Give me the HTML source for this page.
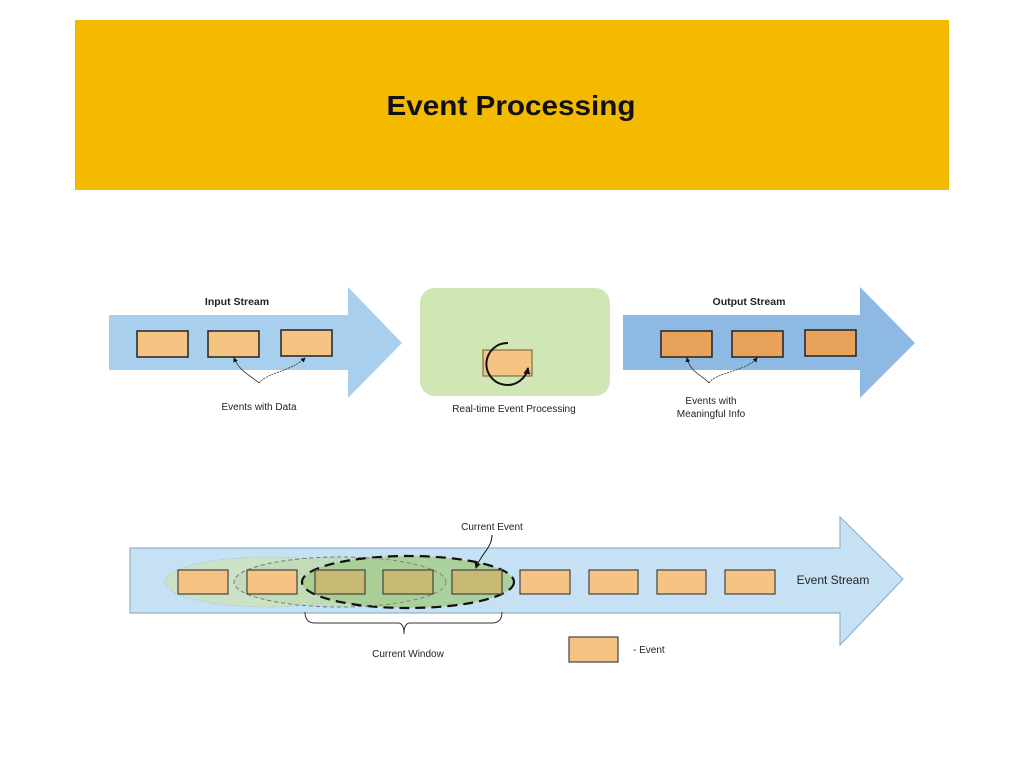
<!DOCTYPE html>
<html><head><meta charset="utf-8"><style>
html,body{margin:0;padding:0;background:#fff;width:1024px;height:768px;overflow:hidden}
svg{display:block}
text{font-family:"Liberation Sans",Arial,sans-serif}
</style></head><body>
<svg width="1024" height="768" viewBox="0 0 1024 768" xmlns="http://www.w3.org/2000/svg">
<defs>
<marker id="ah" markerWidth="6" markerHeight="6" refX="5" refY="3" orient="auto"><path d="M0,0 L6,3 L0,6 z" fill="#111"/></marker>
<marker id="ah2" markerUnits="userSpaceOnUse" markerWidth="8" markerHeight="8" refX="6" refY="4" orient="auto"><path d="M0,0.5 L7,4 L0,7.5 z" fill="#111"/></marker>
</defs>
<rect x="75" y="20" width="874" height="170" fill="#F4BA00"/>
<text x="511" y="115" font-size="28" font-weight="bold" text-anchor="middle" fill="#111" textLength="249" lengthAdjust="spacingAndGlyphs">Event Processing</text>

<!-- Input arrow -->
<path d="M109,315 H348 V287 L402,343 L348,398 V370 H109 Z" fill="#A9CFEE"/>
<text x="237" y="305" font-size="10.5" font-weight="bold" text-anchor="middle" fill="#222">Input Stream</text>
<g fill="#F5C482" stroke="#222" stroke-width="1.5">
<rect x="137" y="331" width="51" height="26"/>
<rect x="208" y="331" width="51" height="26"/>
<rect x="281" y="330" width="51" height="26"/>
</g>
<path d="M259,383 C250,375 240,372 234,358" fill="none" stroke="#333" stroke-width="0.8" marker-end="url(#ah)"/>
<path d="M259,383 C268,372 290,372 305,358" fill="none" stroke="#333" stroke-width="0.8" stroke-dasharray="2,1" marker-end="url(#ah)"/>
<text x="259" y="410" font-size="10" text-anchor="middle" fill="#222">Events with Data</text>

<!-- Processing -->
<rect x="420" y="288" width="190" height="108" rx="15" fill="#D0E6B5"/>
<rect x="483" y="350" width="49" height="26" fill="#F5C482" stroke="#6b5a30" stroke-width="1"/>
<path d="M508,343 A21,21 0 1,0 528,368" fill="none" stroke="#111" stroke-width="2" marker-end="url(#ah2)"/>
<text x="514" y="412" font-size="10" text-anchor="middle" fill="#222">Real-time Event Processing</text>

<!-- Output arrow -->
<path d="M623,315 H860 V287 L915,343 L860,398 V370 H623 Z" fill="#8DB9E2"/>
<text x="749" y="305" font-size="10.5" font-weight="bold" text-anchor="middle" fill="#222">Output Stream</text>
<g fill="#E8A25A" stroke="#222" stroke-width="1.5">
<rect x="661" y="331" width="51" height="26"/>
<rect x="732" y="331" width="51" height="26"/>
<rect x="805" y="330" width="51" height="26"/>
</g>
<path d="M709,383 C702,375 690,372 687,358" fill="none" stroke="#333" stroke-width="0.8" marker-end="url(#ah)"/>
<path d="M709,383 C716,372 745,372 757,358" fill="none" stroke="#333" stroke-width="0.8" stroke-dasharray="2,1" marker-end="url(#ah)"/>
<text x="711" y="404" font-size="10" text-anchor="middle" fill="#222">Events with</text>
<text x="711" y="417" font-size="10" text-anchor="middle" fill="#222">Meaningful Info</text>

<!-- Bottom arrow -->
<path d="M130,548 H840 V517 L903,579 L840,645 V613 H130 Z" fill="#C7E1F4" stroke="#8FB3D0" stroke-width="1.2"/>
<ellipse cx="268" cy="582" rx="103" ry="25" fill="#CDE3C3" stroke="#9ab" stroke-width="0.8" stroke-dasharray="1,2" opacity="0.9"/>
<ellipse cx="340" cy="582" rx="106" ry="25" fill="#BCDAAF" stroke="#666" stroke-width="0.8" stroke-dasharray="4,3" fill-opacity="0.7"/>
<ellipse cx="408" cy="582" rx="106" ry="26" fill="#A5CC8E" fill-opacity="0.85" stroke="#111" stroke-width="2.2" stroke-dasharray="10,6"/>
<ellipse cx="340" cy="582" rx="106" ry="25" fill="none" stroke="#777" stroke-width="0.8" stroke-dasharray="4,3"/>
<g stroke="#444" stroke-width="1.2">
<rect x="178" y="570" width="50" height="24" fill="#F5C482"/>
<rect x="247" y="570" width="50" height="24" fill="#F5C482"/>
<rect x="315" y="570" width="50" height="24" fill="#C8BA72"/>
<rect x="383" y="570" width="50" height="24" fill="#C8BA72"/>
<rect x="452" y="570" width="50" height="24" fill="#C8BA72"/>
<rect x="520" y="570" width="50" height="24" fill="#F5C482"/>
<rect x="589" y="570" width="49" height="24" fill="#F5C482"/>
<rect x="657" y="570" width="49" height="24" fill="#F5C482"/>
<rect x="725" y="570" width="50" height="24" fill="#F5C482"/>
</g>
<text x="833" y="584" font-size="12" text-anchor="middle" fill="#222">Event Stream</text>
<text x="492" y="530" font-size="10" text-anchor="middle" fill="#222">Current Event</text>
<path d="M492,535 C492,548 480,555 476,568" fill="none" stroke="#111" stroke-width="1" marker-end="url(#ah)"/>
<path d="M305,612 Q305,623 315,623 H398 Q404,623 404,634 Q404,623 410,623 H492 Q502,623 502,612" fill="none" stroke="#333" stroke-width="1"/>
<text x="408" y="657" font-size="10" text-anchor="middle" fill="#222">Current Window</text>
<rect x="569" y="637" width="49" height="25" fill="#F5C482" stroke="#444" stroke-width="1.2"/>
<text x="633" y="653" font-size="10" fill="#222">-   Event</text>
</svg>
</body></html>
